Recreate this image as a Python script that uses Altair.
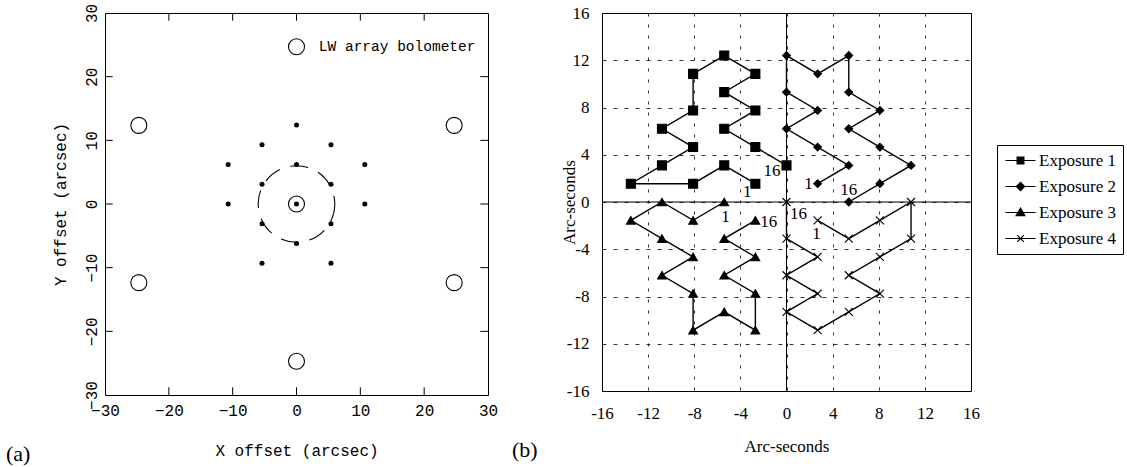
import altair as alt
import pandas as pd

# ---------------- Panel (a) data ----------------
bolo_x = [0.0, -24.7, 24.7, -24.7, 24.7, 0.0, 0.0]
bolo_y = [24.7, 12.35, 12.35, -12.35, -12.35, -24.7, 0.0]
dot_x = [0.0, -5.4, 5.4, -10.7, 0.0, 10.7, -5.4, 5.4, -10.7, 0.0, 10.7, -5.4, 5.4, 0.0, -5.4, 5.4]
dot_y = [12.4, 9.3, 9.3, 6.2, 6.2, 6.2, 3.1, 3.1, 0.0, 0.0, 0.0, -3.1, -3.1, -6.2, -9.3, -9.3]
ring_radius = 6.0
a_ticks = [-30, -20, -10, 0, 10, 20, 30]
a_inner_ticks = [-20, -10, 0, 10, 20]
a_legend_text = ["LW array bolometer"]
a_legend_x = [3.5]
a_legend_y = [24.7]

# ---------------- Panel (b) data ----------------
exps = ["Exposure 1", "Exposure 2", "Exposure 3", "Exposure 4"]
e1_x = [-2.7, -5.4, -8.1, -13.5, -10.8, -8.1, -10.8, -8.1, -8.1, -5.4, -2.7, -5.4, -2.7, -5.4, -2.7, 0.0]
e1_y = [1.55, 3.1, 1.55, 1.55, 3.1, 4.65, 6.2, 7.75, 10.85, 12.4, 10.85, 9.3, 7.75, 6.2, 4.65, 3.1]
e2_x = [2.7, 5.4, 2.7, 0.0, 2.7, 0.0, 0.0, 2.7, 5.4, 5.4, 8.1, 5.4, 8.1, 10.8, 8.1, 5.4]
e2_y = [1.55, 3.1, 4.65, 6.2, 7.75, 9.3, 12.4, 10.85, 12.4, 9.3, 7.75, 6.2, 4.65, 3.1, 1.55, 0.0]
e3_x = [-5.4, -8.1, -10.8, -13.5, -10.8, -8.1, -10.8, -8.1, -8.1, -5.4, -2.7, -2.7, -5.4, -2.7, -5.4, -2.7]
e3_y = [0.0, -1.55, 0.0, -1.55, -3.1, -4.65, -6.2, -7.75, -10.85, -9.3, -10.85, -7.75, -6.2, -4.65, -3.1, -1.55]
e4_x = [2.7, 5.4, 8.1, 10.8, 10.8, 8.1, 5.4, 8.1, 5.4, 2.7, 0.0, 2.7, 0.0, 2.7, 0.0, 0.0]
e4_y = [-1.55, -3.1, -1.55, 0.0, -3.1, -4.65, -6.2, -7.75, -9.3, -10.85, -9.3, -7.75, -6.2, -4.65, -3.1, 0.0]
lab_text = ["1", "16", "1", "16", "1", "16", "1", "16"]
lab_x = [-3.4, -1.25, 1.9, 5.4, -5.3, -1.55, 2.6, 1.05]
lab_y = [0.85, 2.6, 1.55, 1.05, -1.3, -1.7, -2.7, -1.0]
b_ticks = [-16, -12, -8, -4, 0, 4, 8, 12, 16]

# ---------------- layout / styles ----------------
LW, LH = 383, 382
RW, RH = 369, 378
MONO = "Liberation Mono"
SERIF = "Liberation Serif"

# ---------------- Panel (a) ----------------
a_scale_x = alt.Scale(domain=[-30, 30], nice=False, zero=False)
a_scale_y = alt.Scale(domain=[-30, 30], nice=False, zero=False)
a_axis_x = alt.Axis(values=a_ticks, title="X offset (arcsec)", grid=False, ticks=False, domain=False,
                    labelFont=MONO, labelFontSize=16, labelColor="black", labelPadding=7,
                    labelFlush=False, labelOverlap=False,
                    titleFont=MONO, titleFontSize=16, titleFontWeight="normal", titleColor="black",
                    titlePadding=24)
a_axis_y = alt.Axis(values=a_ticks, title="Y offset (arcsec)", grid=False, ticks=False, domain=False,
                    labelFont=MONO, labelFontSize=16, labelColor="black", labelPadding=6,
                    labelAngle=270, labelAlign="center", labelBaseline="bottom",
                    labelFlush=False, labelOverlap=False,
                    titleFont=MONO, titleFontSize=16, titleFontWeight="normal", titleColor="black",
                    titlePadding=15)


def ax(field="x"):
    return alt.X(f"{field}:Q", scale=a_scale_x, axis=a_axis_x)


def ay(field="y"):
    return alt.Y(f"{field}:Q", scale=a_scale_y, axis=a_axis_y)


tick_len = 7.7 * 60.0 / LW
seg = []
for t in a_inner_ticks:
    seg.append({"x": t, "x2": t, "y": -30, "y2": -30 + tick_len})
    seg.append({"x": t, "x2": t, "y": 30, "y2": 30 - tick_len})
    seg.append({"x": -30, "x2": -30 + tick_len, "y": t, "y2": t})
    seg.append({"x": 30, "x2": 30 - tick_len, "y": t, "y2": t})
seg_df = pd.DataFrame(seg)

ticks_a = alt.Chart(seg_df).mark_rule(color="black", strokeWidth=1).encode(
    x=ax(), x2="x2:Q", y=ay(), y2="y2:Q")

ring_px = 2 * ring_radius * LW / 60.0
ring = alt.Chart(pd.DataFrame({"x": [0.0], "y": [0.0]})).mark_point(
    shape="circle", filled=False, size=ring_px ** 2, color="black", strokeWidth=1.1,
    strokeDash=[18, 11], opacity=1).encode(x=ax(), y=ay())

bolos = alt.Chart(pd.DataFrame({"x": bolo_x, "y": bolo_y})).mark_point(
    shape="circle", filled=False, size=256, color="black", strokeWidth=1.1, opacity=1).encode(
    x=ax(), y=ay())

dots = alt.Chart(pd.DataFrame({"x": dot_x, "y": dot_y})).mark_point(
    shape="circle", filled=True, size=25, color="black", opacity=1).encode(x=ax(), y=ay())

leg_a = alt.Chart(pd.DataFrame({"x": a_legend_x, "y": a_legend_y, "t": a_legend_text})).mark_text(
    align="left", baseline="middle", font=MONO, fontSize=14.5, color="black").encode(
    x=ax(), y=ay(), text="t:N")

tag_a = alt.Chart(pd.DataFrame({"t": ["(a)"]})).mark_text(
    align="left", baseline="middle", font=SERIF, fontSize=22, color="black").encode(
    x=alt.value(-99), y=alt.value(LH + 59), text="t:N")

left = alt.layer(ticks_a, ring, bolos, dots, leg_a, tag_a).properties(width=LW, height=LH)

# ---------------- Panel (b) ----------------
rows = []
for name, xs, ys in zip(exps, [e1_x, e2_x, e3_x, e4_x], [e1_y, e2_y, e3_y, e4_y]):
    for i, (x, y) in enumerate(zip(xs, ys)):
        rows.append({"exp": name, "step": i + 1, "x": x, "y": y})
b_df = pd.DataFrame(rows)

b_scale_x = alt.Scale(domain=[-16, 16], nice=False, zero=False)
b_scale_y = alt.Scale(domain=[-16, 16], nice=False, zero=False)
b_axis_x = alt.Axis(values=b_ticks, title="Arc-seconds", grid=True, gridDash=[3, 8], gridColor="black",
                    gridWidth=0.8, gridOpacity=1, ticks=False, domain=False,
                    labelFont=SERIF, labelFontSize=17, labelColor="black", labelPadding=14,
                    labelExpr="datum.value + ''", labelFlush=False, labelOverlap=False,
                    titleFont=SERIF, titleFontSize=17, titleFontWeight="normal", titleColor="black",
                    titlePadding=17)
b_axis_y = alt.Axis(values=b_ticks, title="Arc-seconds", grid=True, gridDash=[4, 7], gridColor="black",
                    gridWidth=0.8, gridOpacity=1, ticks=False, domain=False,
                    labelFont=SERIF, labelFontSize=17, labelColor="black", labelPadding=13,
                    labelExpr="datum.value + ''", labelFlush=False, labelOverlap=False,
                    titleFont=SERIF, titleFontSize=17, titleFontWeight="normal", titleColor="black",
                    titlePadding=-12)


def bx(field="x"):
    return alt.X(f"{field}:Q", scale=b_scale_x, axis=b_axis_x)


def by(field="y"):
    return alt.Y(f"{field}:Q", scale=b_scale_y, axis=b_axis_y)


zero_df = pd.DataFrame({"x": [0.0], "y": [0.0]})
zero_v = alt.Chart(zero_df).mark_rule(color="black", strokeWidth=1).encode(x=bx())
zero_h = alt.Chart(zero_df).mark_rule(color="black", strokeWidth=1).encode(y=by())

lines = alt.Chart(b_df).mark_line(color="black", strokeWidth=1.4).encode(
    x=bx(), y=by(), detail="exp:N", order="step:Q")

marker_shapes = ["square", "diamond", "triangle-up", "M-1,-1L1,1M-1,1L1,-1"]
marker_sizes = [81, 60, 76, 64]
point_layers = []
for name, shp, sz in zip(exps, marker_shapes, marker_sizes):
    point_layers.append(
        alt.Chart(b_df).transform_filter(alt.datum.exp == name).mark_point(
            shape=shp, size=sz, filled=True, fill="black", stroke="black", strokeWidth=1.1, opacity=1
        ).encode(x=bx(), y=by()))

legend_paths = [
    "M-2,0H2M-0.45,-0.45H0.45V0.45H-0.45Z",
    "M-2,0H2M-0.55,0L0,-0.55L0.55,0L0,0.55Z",
    "M-2,0H2M0,-0.58L0.58,0.42L-0.58,0.42Z",
    "M-2,0H2M-0.45,-0.45L0.45,0.45M-0.45,0.45L0.45,-0.45",
]
legend_layer = alt.Chart(b_df).transform_filter("false").mark_point(
    filled=True, fill="black", stroke="black", strokeWidth=1, opacity=1).encode(
    x=bx(), y=by(),
    shape=alt.Shape("exp:N", scale=alt.Scale(domain=exps, range=legend_paths),
                    legend=alt.Legend(title=None, orient="none", legendX=395, legendY=132,
                                      strokeColor="black", fillColor="white", padding=7,
                                      labelFont=SERIF, labelFontSize=17, labelColor="black",
                                      symbolSize=225, symbolOffset=8, labelOffset=10,
                                      rowPadding=8, symbolStrokeWidth=1.2)))

labels = alt.Chart(pd.DataFrame({"x": lab_x, "y": lab_y, "t": lab_text})).mark_text(
    align="center", baseline="middle", font=SERIF, fontSize=17, color="black").encode(
    x=bx(), y=by(), text="t:N")

tag_b = alt.Chart(pd.DataFrame({"t": ["(b)"]})).mark_text(
    align="left", baseline="middle", font=SERIF, fontSize=22, color="black").encode(
    x=alt.value(-90), y=alt.value(RH + 59), text="t:N")

right = alt.layer(zero_v, zero_h, lines, *point_layers, legend_layer, labels, tag_b).properties(
    width=RW, height=RH)

chart = alt.hconcat(left, right, spacing=12).resolve_scale(
    shape="independent", x="independent", y="independent"
).resolve_legend(shape="independent").properties(
    padding={"left": 5, "top": 2, "right": 0, "bottom": 0},
    background="white",
).configure_view(stroke="black", strokeWidth=1)

chart.save("out.html", embed_options={"renderer": "svg", "actions": False})
